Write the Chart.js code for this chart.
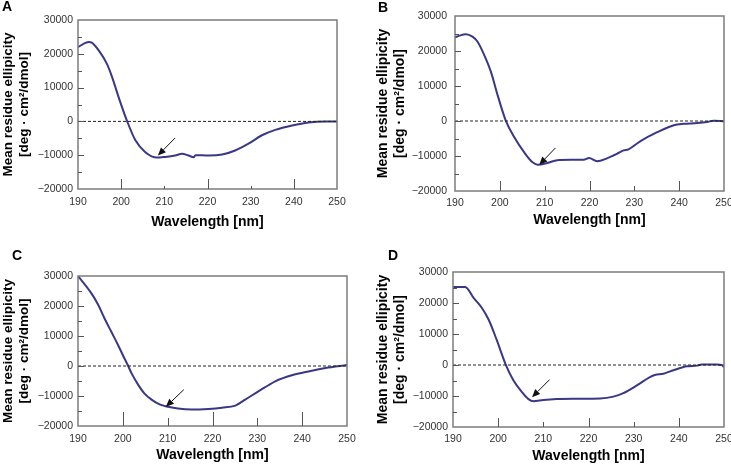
<!DOCTYPE html>
<html>
<head>
<meta charset="utf-8">
<script src="https://cdn.jsdelivr.net/npm/chart.js@4/dist/chart.umd.min.js"></script>
<style>
  html, body { margin: 0; padding: 0; background: #fff; overflow: hidden; }
  #page { position: relative; width: 731px; height: 466px; overflow: hidden; }
  canvas { position: absolute; }
  .tag { position: absolute; font: bold 14px "Liberation Sans", Arial, sans-serif; line-height: 14px; color: #000; }
</style>
</head>
<body>
<div id="page">
  <canvas id="chartA" width="365" height="233" style="left:0;top:0"></canvas>
  <canvas id="chartB" width="380" height="233" style="left:365px;top:0"></canvas>
  <canvas id="chartC" width="365" height="233" style="left:0;top:233px"></canvas>
  <canvas id="chartD" width="380" height="233" style="left:365px;top:233px"></canvas>
  <div class="tag" style="left:2px;top:-1px">A</div>
  <div class="tag" style="left:378px;top:0">B</div>
  <div class="tag" style="left:12px;top:248px">C</div>
  <div class="tag" style="left:388px;top:248px">D</div>
</div>
<script>
// Values (wavelength in nm, ellipticity in deg·cm²/dmol)
const wavelengthA = [190, 192.5, 193.2, 194.8, 196.7, 197.9, 199.4, 201.4, 203.3, 205.6, 208.3, 210.2, 212.5, 214.1, 215.6, 216.8, 217.2, 220.3, 223.4, 226.4, 229.5, 232.6, 235.7, 239.6, 243.4, 247.3, 250];
const ellipticityA = [22000, 23500, 23300, 21000, 17000, 13100, 7200, 0, -5600, -9100, -10700, -10500, -10100, -9600, -10100, -10600, -10000, -10100, -9800, -8600, -6600, -4100, -2500, -1200, -300, 0, 0];

const wavelengthB = [190, 191, 192.4, 193.9, 195, 196.5, 198, 199.5, 201.3, 203.2, 205.4, 207.3, 208.5, 210.6, 212.8, 215.8, 218.7, 219.9, 221.7, 224, 226.1, 227.6, 228.7, 231.3, 235.1, 238.8, 241, 244, 246.2, 247.7, 250];
const ellipticityB = [23900, 24400, 24800, 24100, 22700, 18900, 14100, 7400, 200, -4600, -8900, -11800, -12500, -12000, -11200, -11100, -11100, -10600, -11500, -10600, -9400, -8400, -8100, -5800, -3200, -1200, -800, -600, -300, 100, -100];

const wavelengthC = [190, 193, 194.5, 195.9, 197.4, 198.9, 200.4, 201.2, 201.9, 203.4, 204.9, 206.4, 208.2, 210.1, 212.3, 215.4, 219.1, 222.1, 225.1, 227.3, 230.3, 234, 237.7, 241.4, 245.2, 250];
const ellipticityC = [30000, 24200, 20400, 15900, 11500, 7100, 2400, 0, -2300, -6200, -9300, -11200, -12800, -13600, -14200, -14500, -14300, -13900, -13200, -11200, -8400, -5100, -3100, -1800, -700, 300];

const wavelengthD = [190, 192.7, 194.6, 196.4, 197.9, 199.7, 201.6, 203.4, 205.3, 206.7, 207.8, 210, 213, 217.4, 222.6, 225.5, 227.7, 230.7, 233.6, 234.7, 236.6, 238.8, 241.8, 244, 245.1, 248.4, 249.5, 250];
const ellipticityD = [25200, 25200, 21600, 18400, 14600, 8000, 400, -5000, -8800, -11000, -11700, -11300, -11000, -10900, -10800, -10200, -9100, -6600, -3900, -3200, -2800, -1700, -400, -200, 200, 200, 0, -700];

// Arrow annotations: [tail x, tail y, head x, head y] in data units
const arrowA = [212.5, -4900, 208.5, -10100];
const arrowB = [212.4, -7700, 208.8, -12500];
const arrowC = [213.6, -7900, 209.6, -13600];
const arrowD = [211.4, -4700, 207.5, -10400];

// Axis settings
const xTickValues = [190, 200, 210, 220, 230, 240, 250];
const yTickValues = [-20000, -10000, 0, 10000, 20000, 30000];
const yMinorValues = [-15000, -10000, -5000, 0, 5000, 10000, 15000, 20000, 25000];
const yTitle = ['Mean residue ellipicity', '[deg \u00B7 cm\u00B2/dmol]'];
const xTitle = 'Wavelength [nm]';

Chart.defaults.font.family = '"Liberation Sans", Arial, Helvetica, sans-serif';
Chart.defaults.color = '#333';

// Frame, inward tick marks and arrow drawn through the chart's own scales
const framePlugin = {
  id: 'cdFrame',
  afterDatasetsDraw(chart, args, opts) {
    const { ctx, chartArea: a, scales: { x, y } } = chart;
    ctx.save();

    // arrow
    const tx = x.getPixelForValue(opts.arrow[0]), ty = y.getPixelForValue(opts.arrow[1]);
    const hx = x.getPixelForValue(opts.arrow[2]), hy = y.getPixelForValue(opts.arrow[3]);
    const ang = Math.atan2(hy - ty, hx - tx);
    const headLen = 8, headW = 3.5;
    const bx = hx - headLen * Math.cos(ang), by = hy - headLen * Math.sin(ang);
    ctx.strokeStyle = '#111';
    ctx.fillStyle = '#111';
    ctx.lineWidth = 1;
    ctx.beginPath();
    ctx.moveTo(tx, ty);
    ctx.lineTo(bx, by);
    ctx.stroke();
    ctx.beginPath();
    ctx.moveTo(hx, hy);
    ctx.lineTo(bx + headW * Math.sin(ang), by - headW * Math.cos(ang));
    ctx.lineTo(bx - headW * Math.sin(ang), by + headW * Math.cos(ang));
    ctx.closePath();
    ctx.fill();

    // frame
    ctx.strokeStyle = '#7c7c7c';
    ctx.lineWidth = 1.5;
    ctx.strokeRect(a.left, a.top, a.right - a.left, a.bottom - a.top);

    // y ticks (inward, every 5000; longer at labelled values)
    ctx.strokeStyle = '#555';
    ctx.lineWidth = 1;
    yMinorValues.forEach(v => {
      const py = Math.round(y.getPixelForValue(v)) + 0.5;
      const len = (v % 10000 === 0) ? 6 : 4;
      ctx.beginPath();
      ctx.moveTo(a.left, py);
      ctx.lineTo(a.left + len, py);
      ctx.stroke();
    });

    // x ticks (inward from bottom)
    xTickValues.slice(1, -1).forEach(v => {
      const px = Math.round(x.getPixelForValue(v)) + 0.5;
      const len = (v % 20 === 0) ? opts.longTick : opts.shortTick;
      ctx.beginPath();
      ctx.moveTo(px, a.bottom);
      ctx.lineTo(px, a.bottom - len);
      ctx.stroke();
    });
    ctx.restore();
  }
};

function fmt(v) {
  return v < 0 ? '\u2212' + Math.abs(v) : String(v);
}

function makePanel(id, wl, el, arrow, g) {
  const points = wl.map((w, i) => ({ x: w, y: el[i] }));
  const zero = [{ x: 190, y: 0 }, { x: 250, y: 0 }];
  return new Chart(document.getElementById(id), {
    type: 'line',
    data: {
      datasets: [
        {
          data: zero,
          borderColor: '#222',
          borderWidth: 1,
          borderDash: [3, 2],
          pointRadius: 0
        },
        {
          data: points,
          borderColor: '#383886',
          borderWidth: 2,
          pointRadius: 0,
          cubicInterpolationMode: 'monotone'
        }
      ]
    },
    options: {
      responsive: false,
      animation: false,
      layout: { padding: { top: g.top, right: g.right, bottom: 0, left: 0 } },
      plugins: {
        legend: { display: false },
        tooltip: { enabled: false },
        cdFrame: { arrow: arrow, longTick: g.longTick, shortTick: g.shortTick }
      },
      scales: {
        x: {
          type: 'linear',
          min: 190,
          max: 250,
          afterBuildTicks: s => { s.ticks = xTickValues.map(v => ({ value: v })); },
          afterFit: s => { s.height = g.xh; },
          grid: { display: false, drawTicks: false, tickLength: 0 },
          border: { display: false },
          ticks: { autoSkip: false, maxRotation: 0, padding: g.xPad, font: { size: 10.5 }, callback: v => String(v) },
          title: { display: true, text: xTitle, color: '#000', font: { size: 14, weight: 'bold' }, padding: { top: 0, bottom: g.xTitlePad } }
        },
        y: {
          type: 'linear',
          min: -20000,
          max: 30000,
          afterBuildTicks: s => { s.ticks = yTickValues.map(v => ({ value: v })); },
          afterFit: s => { s.width = g.yw; },
          grid: { display: false, drawTicks: false, tickLength: 0 },
          border: { display: false },
          ticks: { padding: g.yPad, font: { size: 10.5 }, callback: v => fmt(v) },
          title: { display: true, text: yTitle, color: '#000', font: { size: g.yTitleSize, weight: 'bold', lineHeight: 1.18 }, padding: { top: g.yTitlePad, bottom: 0 } }
        }
      }
    },
    plugins: [framePlugin]
  });
}

makePanel('chartA', wavelengthA, ellipticityA, arrowA,
  { top: 20, right: 28, xh: 44, yw: 78, yPad: 5, xPad: 7, xTitlePad: 2, yTitlePad: 0, yTitleSize: 13.5, longTick: 10, shortTick: 3 });
makePanel('chartB', wavelengthB, ellipticityB, arrowB,
  { top: 16, right: 21, xh: 42, yw: 90, yPad: 8, xPad: 6, xTitlePad: 4, yTitlePad: 10, yTitleSize: 14, longTick: 10, shortTick: 5 });
makePanel('chartC', wavelengthC, ellipticityC, arrowC,
  { top: 43, right: 18, xh: 40, yw: 78, yPad: 5, xPad: 7, xTitlePad: 2, yTitlePad: 0, yTitleSize: 13.5, longTick: 14, shortTick: 8 });
makePanel('chartD', wavelengthD, ellipticityD, arrowD,
  { top: 39, right: 21, xh: 39, yw: 88, yPad: 5, xPad: 6, xTitlePad: 1, yTitlePad: 10, yTitleSize: 14, longTick: 9, shortTick: 5 });
</script>
</body>
</html>
